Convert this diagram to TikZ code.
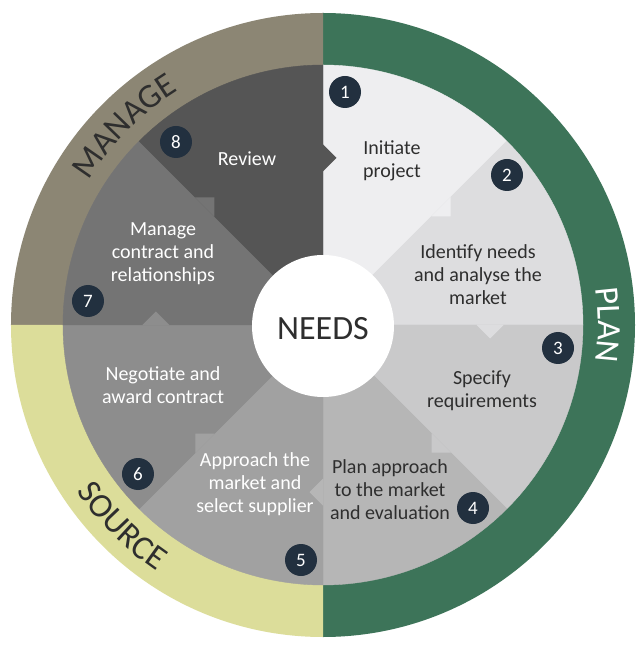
\documentclass[tikz,border=0pt]{standalone}
\usepackage{fontspec}
\setmainfont{Carlito}
\usetikzlibrary{decorations.text}
\definecolor{ringplan}{HTML}{3D7459}
\definecolor{ringmanage}{HTML}{8C8674}
\definecolor{ringsource}{HTML}{DCDD9A}
\definecolor{segA}{HTML}{EEEEF0}
\definecolor{segB}{HTML}{DDDDDF}
\definecolor{segC}{HTML}{C9C9CA}
\definecolor{segD}{HTML}{B6B6B6}
\definecolor{segE}{HTML}{A1A1A1}
\definecolor{segF}{HTML}{8D8D8D}
\definecolor{segG}{HTML}{747474}
\definecolor{segH}{HTML}{555555}
\definecolor{navy}{HTML}{22303F}
\definecolor{darktext}{HTML}{2E2E2E}
\begin{document}
\begin{tikzpicture}[x=1pt,y=1pt,
  numdot/.style={circle, fill=navy, text=white, minimum size=32pt, inner sep=0pt,
    font=\fontsize{19}{19}\selectfont},
  lbl/.style={align=center, inner sep=0pt, font=\fontsize{20}{23}\selectfont},
  lbldark/.style={lbl, text=darktext},
  lbllight/.style={lbl, text=white},
  hubdisc/.style={circle, fill=white, minimum size=142pt, inner sep=0pt},
  ringtext/.style={decorate, decoration={text along path, text align=center}}]
\useasboundingbox (-323,-325) rectangle (321,325);
\fill[white] (-323,-325) rectangle (321,325);
% outer ring
\fill[ringplan] (0,0) -- (90:312) arc (90:-90:312) -- cycle;
\fill[ringmanage] (0,0) -- (90:312) arc (90:180:312) -- cycle;
\fill[ringsource] (0,0) -- (180:312) arc (180:270:312) -- cycle;
% segments
\foreach \a/\c in {90/segA, 45/segB, 0/segC, -45/segD, -90/segE, -135/segF, 180/segG, 135/segH}
  \filldraw[fill=\c, draw=\c, line width=0.4pt] (0,0) -- (\a:260) arc (\a:\a-45:260) -- cycle;
% arrow tabs
\foreach \b/\c in {90/segH, 45/segA, 0/segB, -45/segC, -90/segD, -135/segE, 180/segF, 135/segG}
  \fill[\c, rotate=\b] (153.5,0.3) -- (153.5,0) -- (167,-13.5) -- (180.5,0) -- (180.5,0.3) -- cycle;
% hub
\node[hubdisc] (hub) at (0,-1) {};
\node[inner sep=0pt, text=darktext, font=\fontsize{34}{34}\selectfont] (needs) at (0,-3.5) {NEEDS};
% ring labels
\path[ringtext, decoration={text={|\fontsize{34}{34}\selectfont\color{darktext}|MANAGE}}]
  (178:275) arc (178:92:275);
\path[ringtext, decoration={text={|\fontsize{34}{34}\selectfont\color{white}|PLAN}}]
  (43:275) arc (43:-43:275);
\path[ringtext, decoration={text={|\fontsize{34}{34}\selectfont\color{darktext}|SOURCE}}]
  (182:297) arc (182:268:297);
% step labels
\node[lbldark] (t1) at (69,164) {Initiate\\project};
\node[lbldark] (t2) at (155,50) {Identify needs\\and analyse the\\market};
\node[lbldark] (t3) at (159,-65.5) {Specify\\requirements};
\node[lbldark] (t4) at (67,-165) {Plan approach\\to the market\\and evaluation};
\node[lbllight] (t5) at (-68,-159) {Approach the\\market and\\select supplier};
\node[lbllight] (t6) at (-160,-60.5) {Negotiate and\\award contract};
\node[lbllight] (t7) at (-160,71.5) {Manage\\contract and\\relationships};
\node[lbllight] (t8) at (-76,166) {Review};
% numbers
\node[numdot] (n1) at (22,233) {1};
\node[numdot] (n2) at (184,150) {2};
\node[numdot] (n3) at (235,-23) {3};
\node[numdot] (n4) at (150,-183) {4};
\node[numdot] (n5) at (-22,-235) {5};
\node[numdot] (n6) at (-185,-149) {6};
\node[numdot] (n7) at (-235,24) {7};
\node[numdot] (n8) at (-147,183) {8};
\end{tikzpicture}
\end{document}
